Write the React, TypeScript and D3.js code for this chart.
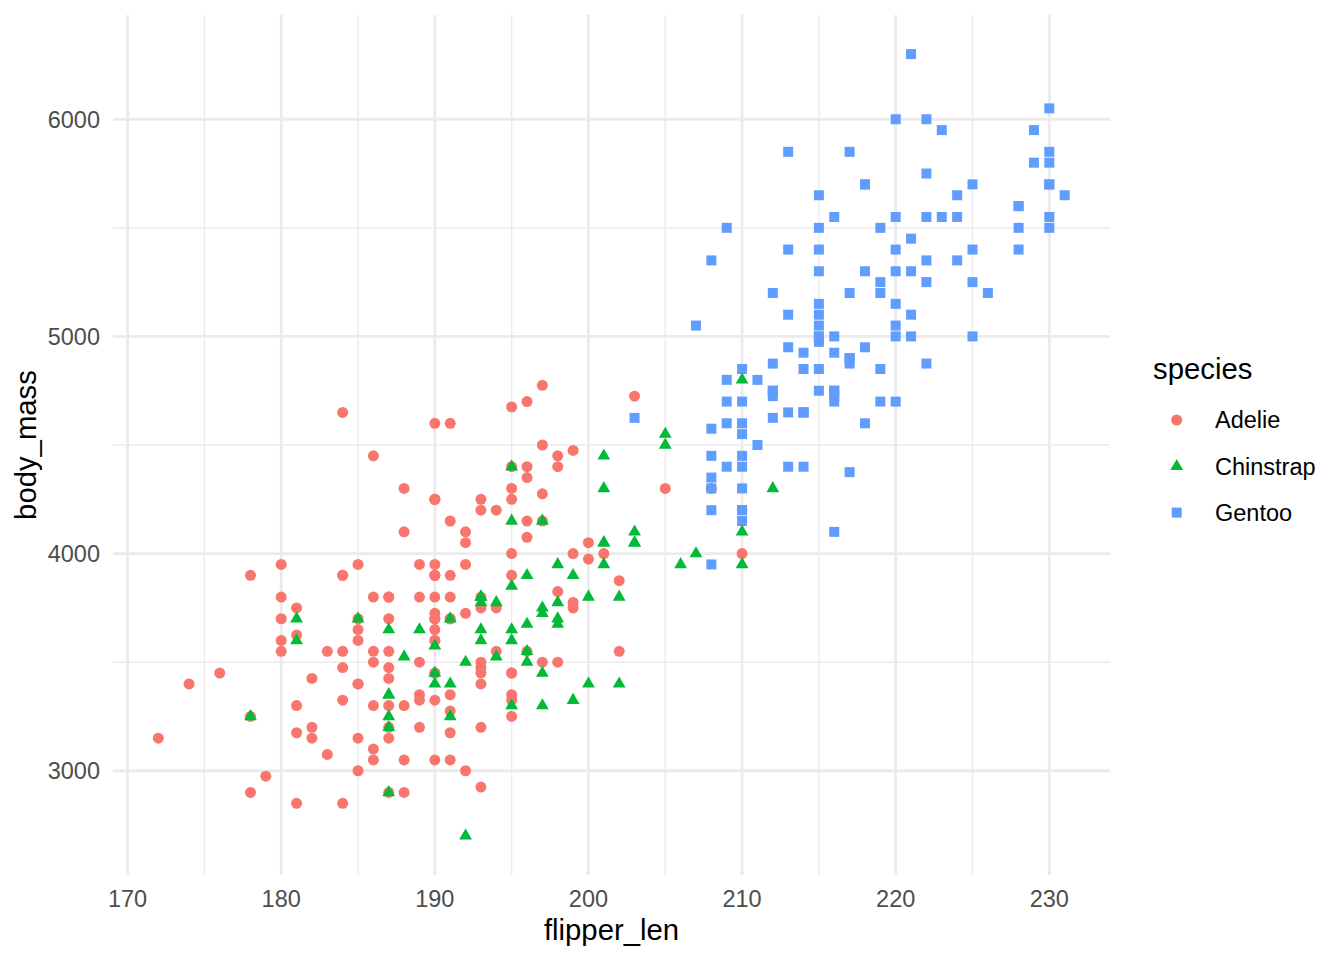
import * as d3 from "d3"

// Palmer penguins: flipper length (mm) vs body mass (g)
const adelieFlipper = [
  181, 186, 195, 193, 190, 181, 195, 193, 190, 186, 180, 182, 191, 198, 185, 195, 197, 184, 194,
  174, 180, 189, 185, 180, 187, 183, 187, 172, 180,
  178, 178, 188, 184, 195, 196, 190, 180, 181, 184, 182, 195, 186, 196, 185, 190, 182, 179, 190, 191,
  186, 188, 190, 200, 187, 191, 186, 193, 181, 194, 185, 195, 185, 192, 184, 192, 195, 188,
  190, 198, 190, 190, 196, 197, 190, 195, 191, 184, 187, 195, 189, 196, 187, 193,
  191, 194, 190, 189, 189, 190, 202, 205, 185, 186, 187, 208, 190, 196, 178, 192,
  192, 203, 183, 190, 193, 184, 199, 190, 181, 197, 198, 191, 193, 197, 191, 196,
  188, 199, 189, 189, 187, 198, 176, 202, 186, 199, 191, 195, 191, 210, 190, 197,
  193, 199, 187, 190, 191, 200, 185, 193, 193, 187, 188, 190, 192, 185, 190, 184, 195, 193, 187, 201,
]
const adelieMass = [
  3750, 3800, 3250, 3450, 3650, 3625, 4675, 3475, 4250, 3300, 3700, 3200, 3800, 4400, 3700, 3450, 4500, 3325, 4200,
  3400, 3600, 3800, 3950, 3800, 3800, 3550, 3200, 3150, 3950,
  3250, 3900, 3300, 3900, 3325, 4150, 3950, 3550, 3300, 4650, 3150, 3900, 3100, 4400, 3000, 4600, 3425, 2975, 3450, 4150,
  3500, 4300, 3450, 4050, 2900, 3700, 3550, 3800, 2850, 3750, 3150, 4400, 3600, 4050, 2850, 3950, 3350, 4100,
  3050, 4450, 3600, 3900, 3550, 4150, 3700, 4250, 3700, 3900, 3550, 4000, 3200, 4700, 3800, 4200,
  3350, 3550, 3800, 3500, 3950, 3600, 3550, 4300, 3400, 4450, 3300, 4300, 3700, 4350, 2900, 4100,
  3725, 4725, 3075, 4250, 2925, 3550, 3750, 3900, 3175, 4775, 3825, 4600, 3200, 4275, 3900, 4075,
  2900, 3775, 3350, 3325, 3150, 3500, 3450, 3875, 3050, 4000, 3275, 4300, 3050, 4000, 3325, 3500,
  3500, 4475, 3425, 3900, 3175, 3975, 3400, 4250, 3400, 3475, 3050, 3725, 3000, 3650, 4250, 3475, 3450, 3750, 3700, 4000,
]

const gentooFlipper = [
  211, 230, 210, 218, 215, 210, 211, 219, 209, 215, 214, 216, 214, 213, 210, 217, 210, 221, 209, 222,
  218, 215, 213, 215, 215, 215, 216, 215, 210, 220, 222, 209, 207, 230,
  220, 220, 213, 219, 208, 208, 208, 225, 210, 216, 222, 217, 210, 225, 213, 215, 210, 220, 210, 225,
  217, 220, 208, 220, 208, 224, 208, 221, 214, 231, 219, 230, 214, 229, 220, 223, 216, 221, 221, 217,
  216, 230, 209, 220, 215, 223,
  212, 221, 212, 224, 212, 228, 218, 218, 212, 230, 218, 228, 212, 224, 214, 226, 216, 222, 203, 225,
  219, 228, 215, 228, 216, 215, 210, 219, 208, 209, 216, 229, 213, 230, 217, 230, 217, 222, 214, 215,
  222, 212, 213,
]
const gentooMass = [
  4500, 5700, 4450, 5700, 5400, 4550, 4800, 5200, 4400, 5150, 4650, 5550, 4650, 5850, 4200, 5850, 4150, 6300, 4800, 5350,
  5700, 5000, 4400, 5050, 5000, 5100, 4100, 5650, 4600, 5550, 5250, 4700, 5050, 6050,
  5150, 5400, 4950, 5250, 4350, 5350, 3950, 5700, 4300, 4750, 5550, 4900, 4200, 5400, 5100, 5300, 4850, 5300, 4400, 5000,
  4900, 5050, 4300, 5000, 4450, 5550, 4200, 5300, 4400, 5650, 4700, 5700, 4650, 5800, 4700, 5550, 4750, 5000, 5100, 5200,
  4700, 5800, 4600, 6000, 4750, 5950,
  4625, 5450, 4725, 5350, 4750, 5600, 4600, 5300, 4875, 5550, 4950, 5400, 4750, 5650, 4850, 5200, 4925, 4875, 4625, 5250,
  4850, 5600, 4975, 5500, 4725, 5500, 4700, 5500, 4575, 5500, 5000, 5950, 4650, 5500, 4375, 5850, 4875, 6000, 4925, 4850,
  5750, 5200, 5400,
]

const chinstrapFlipper = [
  192, 196, 193, 188, 197, 198, 178, 197, 195, 198, 193, 194, 185, 201, 190, 201, 197, 181, 190, 195,
  181, 191, 187, 193, 195, 197,
  200, 200, 191, 205, 187, 201, 187, 203, 195, 199, 195, 210, 192, 205, 210, 187, 196, 196, 196, 201,
  190, 212, 187, 198, 199, 201, 193, 203, 187, 197, 191, 203, 202, 194, 206, 189, 195, 207, 202, 193,
  210, 198,
]
const chinstrapMass = [
  3500, 3900, 3650, 3525, 3725, 3950, 3250, 3750, 4150, 3700, 3800, 3775, 3700, 4050, 3575, 4050, 3300, 3700, 3450, 4400,
  3600, 3400, 2900, 3800, 3300, 4150,
  3400, 3800, 3700, 4550, 3200, 4300, 3350, 4100, 3600, 3900, 3850, 4800, 2700, 4500, 3950, 3650, 3550, 3500, 3675, 4450,
  3400, 4300, 3250, 3675, 3325, 3950, 3600, 4050, 3350, 3450, 3250, 4050, 3800, 3525, 3950, 3650, 3650, 4000, 3400, 3775,
  4100, 3775,
]

const speciesNames = ["Adelie", "Chinstrap", "Gentoo"]
const speciesColors = ["#F8766D", "#00BA38", "#619CFF"]
const xTicks = [170, 180, 190, 200, 210, 220, 230]
const yTicks = [3000, 4000, 5000, 6000]

const W = 1344
const H = 960
const panel = { left: 113, right: 1110, top: 15, bottom: 875 }
const font = "'Liberation Sans', Arial, Helvetica, sans-serif"

type Pt = { x: number; y: number; sp: string }
const build = (fl: number[], m: number[], sp: string): Pt[] => fl.map((f, i) => ({ x: f, y: m[i], sp }))

// row order of the data set: Adelie, Gentoo, Chinstrap
const points: Pt[] = [
  ...build(adelieFlipper, adelieMass, "Adelie"),
  ...build(gentooFlipper, gentooMass, "Gentoo"),
  ...build(chinstrapFlipper, chinstrapMass, "Chinstrap"),
]

const expand = (ext: [number, number]) => {
  const pad = (ext[1] - ext[0]) * 0.05
  return [ext[0] - pad, ext[1] + pad]
}

const xScale = d3
  .scaleLinear()
  .domain(expand(d3.extent(points, (d) => d.x) as [number, number]))
  .range([panel.left, panel.right])
const yScale = d3
  .scaleLinear()
  .domain(expand(d3.extent(points, (d) => d.y) as [number, number]))
  .range([panel.bottom, panel.top])
const color = d3.scaleOrdinal<string, string>().domain(speciesNames).range(speciesColors)

const xMinor = d3.range(175, 230, 10)
const yMinor = [3500, 4500, 5500]

function Mark({ sp, cx, cy }: { sp: string; cx: number; cy: number }) {
  const fill = color(sp)
  if (sp === "Adelie") return <circle cx={cx} cy={cy} r={5.5} fill={fill} />
  if (sp === "Gentoo") return <rect x={cx - 5} y={cy - 5} width={10} height={10} fill={fill} />
  const pts = `${cx},${cy - 7.4} ${cx + 6.4},${cy + 3.7} ${cx - 6.4},${cy + 3.7}`
  return <polygon points={pts} fill={fill} />
}

export default function App() {
  return (
    <svg
      width={W}
      height={H}
      viewBox={`0 0 ${W} ${H}`}
      style={{ position: "absolute", left: 0, top: 0, background: "#fff" }}
      fontFamily={font}
    >
      <rect width={W} height={H} fill="#fff" />
      {/* grid */}
      <g stroke="#EBEBEB" fill="none">
        {xMinor.map((v) => (
          <line key={"xm" + v} x1={xScale(v)} x2={xScale(v)} y1={panel.top} y2={panel.bottom} strokeWidth={1.42} />
        ))}
        {yMinor.map((v) => (
          <line key={"ym" + v} x1={panel.left} x2={panel.right} y1={yScale(v)} y2={yScale(v)} strokeWidth={1.42} />
        ))}
        {xTicks.map((v) => (
          <line key={"xM" + v} x1={xScale(v)} x2={xScale(v)} y1={panel.top} y2={panel.bottom} strokeWidth={2.84} />
        ))}
        {yTicks.map((v) => (
          <line key={"yM" + v} x1={panel.left} x2={panel.right} y1={yScale(v)} y2={yScale(v)} strokeWidth={2.84} />
        ))}
      </g>

      {/* points */}
      <g>
        {points.map((d, i) => (
          <Mark key={i} sp={d.sp} cx={xScale(d.x)} cy={yScale(d.y)} />
        ))}
      </g>

      {/* axes labels */}
      <g fill="#4D4D4D" fontSize={23.5}>
        {xTicks.map((v) => (
          <text key={"xt" + v} x={xScale(v)} y={907} textAnchor="middle">
            {v}
          </text>
        ))}
        {yTicks.map((v) => (
          <text key={"yt" + v} x={100} y={yScale(v) + 8.4} textAnchor="end">
            {v}
          </text>
        ))}
      </g>
      <text x={(panel.left + panel.right) / 2} y={940} textAnchor="middle" fontSize={29.3} fill="#000">
        flipper_len
      </text>
      <text
        transform={`translate(36,${(panel.top + panel.bottom) / 2}) rotate(-90)`}
        textAnchor="middle"
        fontSize={29.3}
        fill="#000"
      >
        body_mass
      </text>

      {/* legend */}
      <text x={1153} y={379} fontSize={29.3} fill="#000">
        species
      </text>
      {speciesNames.map((sp, i) => (
        <g key={sp}>
          <Mark sp={sp} cx={1176.7} cy={420 + i * 46.3} />
          <text x={1215} y={420 + i * 46.3 + 8.4} fontSize={23.5} fill="#000">
            {sp}
          </text>
        </g>
      ))}
    </svg>
  )
}
